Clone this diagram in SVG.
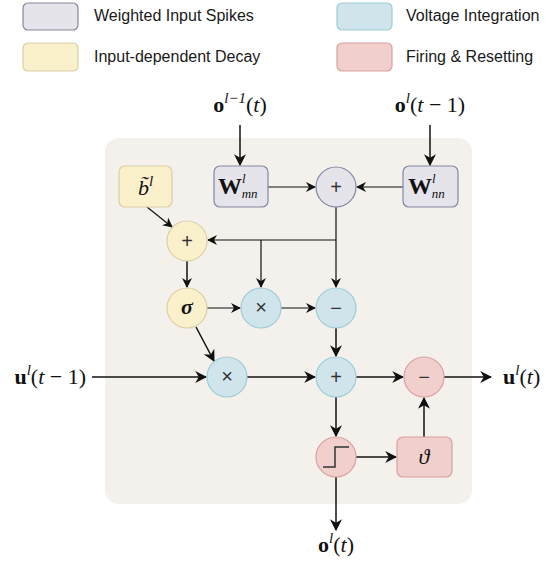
<svg xmlns="http://www.w3.org/2000/svg" width="558" height="567" viewBox="0 0 558 567">
  <style>
    .leg { font-family: "Liberation Sans", Arial, sans-serif; font-size: 16px; fill: #1a1a1a; }
    .math { font-family: "Liberation Serif", "Times New Roman", serif; font-size: 22px; fill: #111; }
    .bold { font-weight: bold; }
    .it { font-style: italic; }
    .sup { font-size: 15px; font-style: italic; }
    .idx { font-size: 13px; font-style: italic; }
    .op { font-family: "Liberation Sans", Arial, sans-serif; font-size: 20px; fill: #333; text-anchor: middle; }
    .gray { fill: #e5e4ea; stroke: #84889e; stroke-width: 1.2; }
    .yellow { fill: #faf0cb; stroke: #d9cfa6; stroke-width: 1.2; }
    .blue { fill: #d0e4eb; stroke: #9ecbd6; stroke-width: 1.2; }
    .red { fill: #f0cfcd; stroke: #dc9fa1; stroke-width: 1.2; }
    .wire { fill: none; stroke: #111; stroke-width: 1.5; }
    .thin { stroke-width: 1.2; }
  </style>
  <defs>
    <marker id="ah" viewBox="0 0 10 10" refX="9" refY="5" markerWidth="12" markerHeight="12" markerUnits="userSpaceOnUse" orient="auto">
      <path d="M0,0 L10,5 L0,10 L3,5 Z" fill="#111"/>
    </marker>
    <marker id="ahs" viewBox="0 0 10 10" refX="9" refY="5" markerWidth="10" markerHeight="10" markerUnits="userSpaceOnUse" orient="auto">
      <path d="M0,0 L10,5 L0,10 L3,5 Z" fill="#111"/>
    </marker>
  </defs>

  <!-- legend -->
  <g id="legend">
    <rect class="gray" x="23" y="3" width="55" height="27" rx="5"/>
    <text class="leg" x="94" y="21">Weighted Input Spikes</text>
    <rect class="yellow" x="23" y="43" width="55" height="28" rx="5"/>
    <text class="leg" x="94" y="62">Input-dependent Decay</text>
    <rect class="blue" x="337" y="3" width="55" height="27" rx="5"/>
    <text class="leg" x="406" y="21">Voltage Integration</text>
    <rect class="red" x="337" y="43" width="55" height="28" rx="5"/>
    <text class="leg" x="406" y="62">Firing &amp; Resetting</text>
  </g>

  <!-- neuron panel -->
  <rect id="panel" x="105" y="138" width="367" height="366" rx="14" fill="#f4f1ec"/>

  <!-- connectors -->
  <g id="connectors">
    <line class="wire" x1="240" y1="125" x2="240" y2="165" marker-end="url(#ah)"/>
    <line class="wire" x1="430" y1="125" x2="430" y2="165" marker-end="url(#ah)"/>
    <line class="wire thin" x1="268" y1="187" x2="315" y2="187" marker-end="url(#ahs)"/>
    <line class="wire thin" x1="403" y1="187" x2="357" y2="187" marker-end="url(#ahs)"/>
    <line class="wire thin" x1="336" y1="207" x2="336" y2="287" marker-end="url(#ahs)"/>
    <line class="wire thin" x1="336" y1="240" x2="208" y2="240" marker-end="url(#ahs)"/>
    <line class="wire thin" x1="261" y1="240" x2="261" y2="287" marker-end="url(#ahs)"/>
    <line class="wire thin" x1="147" y1="207" x2="172" y2="227" marker-end="url(#ahs)"/>
    <line class="wire" x1="187" y1="261" x2="187" y2="287" marker-end="url(#ahs)"/>
    <line class="wire thin" x1="207" y1="308" x2="240" y2="308" marker-end="url(#ahs)"/>
    <line class="wire thin" x1="281" y1="308" x2="315" y2="308" marker-end="url(#ahs)"/>
    <line class="wire" x1="336" y1="328" x2="336" y2="356" marker-end="url(#ah)"/>
    <line class="wire" x1="196" y1="327" x2="214" y2="361" marker-end="url(#ah)"/>
    <line class="wire" x1="92" y1="377" x2="206" y2="377" marker-end="url(#ah)"/>
    <line class="wire" x1="247" y1="377" x2="315" y2="377" marker-end="url(#ah)"/>
    <line class="wire" x1="356" y1="377" x2="403" y2="377" marker-end="url(#ah)"/>
    <line class="wire" x1="444" y1="377" x2="491" y2="377" marker-end="url(#ah)"/>
    <line class="wire" x1="336" y1="397" x2="336" y2="436" marker-end="url(#ah)"/>
    <line class="wire" x1="356" y1="457" x2="396" y2="457" marker-end="url(#ah)"/>
    <line class="wire" x1="424" y1="437" x2="424" y2="398" marker-end="url(#ah)"/>
    <line class="wire" x1="336" y1="477" x2="336" y2="530" marker-end="url(#ah)"/>
  </g>

  <!-- external signals -->
  <g id="in-o-prev-layer">
    <text class="math" x="240" y="112" text-anchor="middle"><tspan class="bold">o</tspan><tspan class="sup" dy="-9">l</tspan><tspan class="sup" font-style="normal">−1</tspan><tspan dy="9">(</tspan><tspan class="it">t</tspan>)</text>
  </g>
  <g id="in-o-recurrent">
    <text class="math" x="430" y="112" text-anchor="middle"><tspan class="bold">o</tspan><tspan class="sup" dy="-9">l</tspan><tspan dy="9">(</tspan><tspan class="it">t</tspan> − 1)</text>
  </g>
  <g id="in-u">
    <text class="math" x="86" y="384" text-anchor="end"><tspan class="bold">u</tspan><tspan class="sup" dy="-9">l</tspan><tspan dy="9">(</tspan><tspan class="it">t</tspan> − 1)</text>
  </g>
  <g id="out-u">
    <text class="math" x="503" y="384"><tspan class="bold">u</tspan><tspan class="sup" dy="-9">l</tspan><tspan dy="9">(</tspan><tspan class="it">t</tspan>)</text>
  </g>
  <g id="out-o">
    <text class="math" x="336" y="552" text-anchor="middle"><tspan class="bold">o</tspan><tspan class="sup" dy="-9">l</tspan><tspan dy="9">(</tspan><tspan class="it">t</tspan>)</text>
  </g>

  <!-- weighted input spikes -->
  <g id="w-mn">
    <rect class="gray" x="214" y="166" width="54" height="41" rx="6"/>
    <text class="math" x="218" y="194"><tspan class="bold" font-size="24">W</tspan><tspan class="idx" dy="-11">l</tspan><tspan class="idx" dx="-4" dy="15">mn</tspan></text>
  </g>
  <g id="w-nn">
    <rect class="gray" x="403" y="166" width="55" height="41" rx="6"/>
    <text class="math" x="408" y="194"><tspan class="bold" font-size="24">W</tspan><tspan class="idx" dy="-11">l</tspan><tspan class="idx" dx="-4" dy="15">nn</tspan></text>
  </g>
  <g id="sum-in">
    <circle class="gray" cx="336" cy="187" r="20"/>
    <text class="op" x="336" y="194">+</text>
  </g>

  <!-- input-dependent decay -->
  <g id="bias">
    <rect class="yellow" x="119" y="166" width="53" height="41" rx="6"/>
    <text class="math" x="138" y="195"><tspan class="it">b&#x303;</tspan><tspan class="sup" dy="-9">l</tspan></text>
  </g>
  <g id="sum-decay">
    <circle class="yellow" cx="187" cy="241" r="20"/>
    <text class="op" x="187" y="248">+</text>
  </g>
  <g id="sigmoid">
    <circle class="yellow" cx="187" cy="308" r="20"/>
    <text class="math bold it" x="187" y="314" text-anchor="middle" font-size="21">σ</text>
  </g>

  <!-- voltage integration -->
  <g id="mul-gate">
    <circle class="blue" cx="261" cy="308" r="20"/>
    <text class="op" x="261" y="314" font-size="18">×</text>
  </g>
  <g id="sub-gate">
    <circle class="blue" cx="336" cy="308" r="20"/>
    <text class="op" x="336" y="315">−</text>
  </g>
  <g id="mul-decay">
    <circle class="blue" cx="227" cy="377" r="20"/>
    <text class="op" x="227" y="383" font-size="18">×</text>
  </g>
  <g id="sum-voltage">
    <circle class="blue" cx="336" cy="377" r="20"/>
    <text class="op" x="336" y="384">+</text>
  </g>

  <!-- firing and resetting -->
  <g id="reset-sub">
    <circle class="red" cx="424" cy="377" r="20"/>
    <text class="op" x="424" y="384">−</text>
  </g>
  <g id="threshold">
    <circle class="red" cx="336" cy="457" r="20"/>
    <path d="M323,467 H335 V447 H349" fill="none" stroke="#333" stroke-width="1.5"/>
  </g>
  <g id="theta">
    <rect class="red" x="397" y="437" width="55" height="40" rx="6"/>
    <text class="math it" x="424" y="464" text-anchor="middle">ϑ</text>
  </g>
</svg>
